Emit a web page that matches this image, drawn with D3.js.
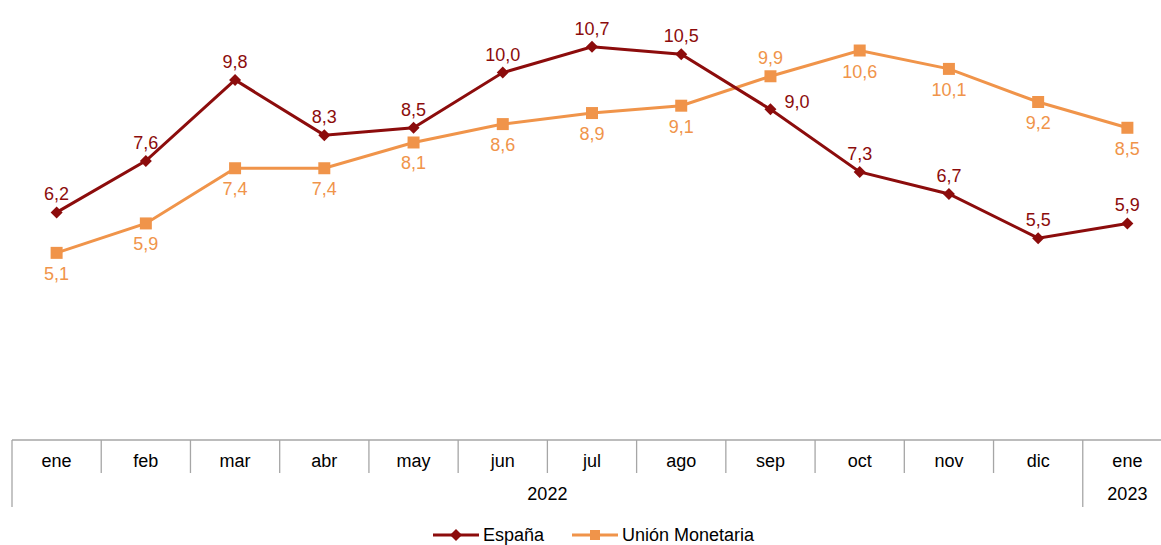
<!DOCTYPE html>
<html>
<head>
<meta charset="utf-8">
<script src="https://cdn.jsdelivr.net/npm/d3@7"></script>
<style>
  body { margin: 0; background: #fff; }
  svg text { font-family: "Liberation Sans", Arial, sans-serif; }
</style>
</head>
<body>
<div id="chart"></div>
<script>
// data
const months = ["ene", "feb", "mar", "abr", "may", "jun", "jul", "ago", "sep", "oct", "nov", "dic", "ene"];
const years = [{ label: "2022", from: 0, to: 11 }, { label: "2023", from: 12, to: 12 }];
const espana = [6.2, 7.6, 9.8, 8.3, 8.5, 10.0, 10.7, 10.5, 9.0, 7.3, 6.7, 5.5, 5.9];
const union = [5.1, 5.9, 7.4, 7.4, 8.1, 8.6, 8.9, 9.1, 9.9, 10.6, 10.1, 9.2, 8.5];
const seriesNames = ["España", "Unión Monetaria"];

const width = 1161, height = 545;
const red = "#8C0C0C", orange = "#F0944A", gridColor = "#A6A6A6";

const svg = d3.select("#chart").append("svg")
  .attr("width", width)
  .attr("height", height);

// scales
const keys = months.map((m, i) => i);
const x = d3.scaleBand()
  .domain(keys)
  .range([12, 1172]);

const y = d3.scaleLinear()
  .domain([0, 12])
  .range([440.5, -1]);

const fmt = v => d3.format(".1f")(v).replace(".", ",");
const cx = i => x(i) + x.bandwidth() / 2;

// category axis
const axisY = 440;
const axis = svg.append("g")
  .attr("transform", "translate(0," + axisY + ")")
  .call(d3.axisBottom(x).tickSize(0).tickFormat(i => months[i]));
axis.select(".domain").remove();
axis.selectAll("text")
  .attr("y", 27)
  .attr("dy", 0)
  .attr("fill", "#000")
  .style("font-size", "18px");

svg.append("line")
  .attr("x1", 12).attr("x2", width)
  .attr("y1", axisY).attr("y2", axisY)
  .attr("stroke", gridColor).attr("stroke-width", 1.3);

// separators between months (short) and year groups (long)
const groupStarts = years.map(g => g.from);
keys.forEach(i => {
  const long = groupStarts.includes(i);
  svg.append("line")
    .attr("x1", x(i)).attr("x2", x(i))
    .attr("y1", axisY).attr("y2", long ? 507 : 473)
    .attr("stroke", gridColor).attr("stroke-width", 1.3);
});

// year labels
svg.append("g").selectAll("text")
  .data(years)
  .enter()
  .append("text")
  .attr("x", d => (x(d.from) + x(d.to) + x.bandwidth()) / 2)
  .attr("y", 500)
  .attr("text-anchor", "middle")
  .style("font-size", "18px")
  .text(d => d.label);

// lines
const line = d3.line()
  .x((d, i) => cx(i))
  .y(d => y(d));

svg.append("path")
  .datum(union)
  .attr("d", line)
  .attr("fill", "none")
  .attr("stroke", orange)
  .attr("stroke-width", 3);

svg.append("path")
  .datum(espana)
  .attr("d", line)
  .attr("fill", "none")
  .attr("stroke", red)
  .attr("stroke-width", 3);

// markers
const square = d3.symbol().type(d3.symbolSquare).size(144);
const diamond = d3.symbol().type(d3.symbolSquare).size(72);

svg.append("g").selectAll("path")
  .data(union)
  .enter()
  .append("path")
  .attr("d", square)
  .attr("transform", (d, i) => "translate(" + cx(i) + "," + y(d) + ")")
  .attr("fill", orange);

svg.append("g").selectAll("path")
  .data(espana)
  .enter()
  .append("path")
  .attr("d", diamond)
  .attr("transform", (d, i) => "translate(" + cx(i) + "," + y(d) + ") rotate(45)")
  .attr("fill", red);

// data labels: España above, Unión below, except where the lines cross (sep)
const crossing = 8;

svg.append("g").selectAll("text")
  .data(espana)
  .enter()
  .append("text")
  .attr("x", (d, i) => i === crossing ? cx(i) + 14 : cx(i))
  .attr("y", (d, i) => i === crossing ? y(d) - 1 : y(d) - 12)
  .attr("text-anchor", (d, i) => i === crossing ? "start" : "middle")
  .attr("fill", red)
  .style("font-size", "18px")
  .text(d => fmt(d));

svg.append("g").selectAll("text")
  .data(union)
  .enter()
  .append("text")
  .attr("x", (d, i) => cx(i))
  .attr("y", (d, i) => i === crossing ? y(d) - 12 : y(d) + 27)
  .attr("text-anchor", "middle")
  .attr("fill", orange)
  .style("font-size", "18px")
  .text(d => fmt(d));

// legend
const legend = svg.append("g").attr("transform", "translate(0,535)");
const legendItems = [
  { name: seriesNames[0], color: red, x0: 433, marker: diamond, rot: 45 },
  { name: seriesNames[1], color: orange, x0: 572, marker: d3.symbol().type(d3.symbolSquare).size(100), rot: 0 }
];
legendItems.forEach(it => {
  legend.append("line")
    .attr("x1", it.x0).attr("x2", it.x0 + 46)
    .attr("y1", 0).attr("y2", 0)
    .attr("stroke", it.color).attr("stroke-width", 3);
  legend.append("path")
    .attr("d", it.marker)
    .attr("transform", "translate(" + (it.x0 + 23) + ",0) rotate(" + it.rot + ")")
    .attr("fill", it.color);
  legend.append("text")
    .attr("x", it.x0 + 50)
    .attr("y", 6)
    .style("font-size", "18px")
    .text(it.name);
});
</script>
</body>
</html>
